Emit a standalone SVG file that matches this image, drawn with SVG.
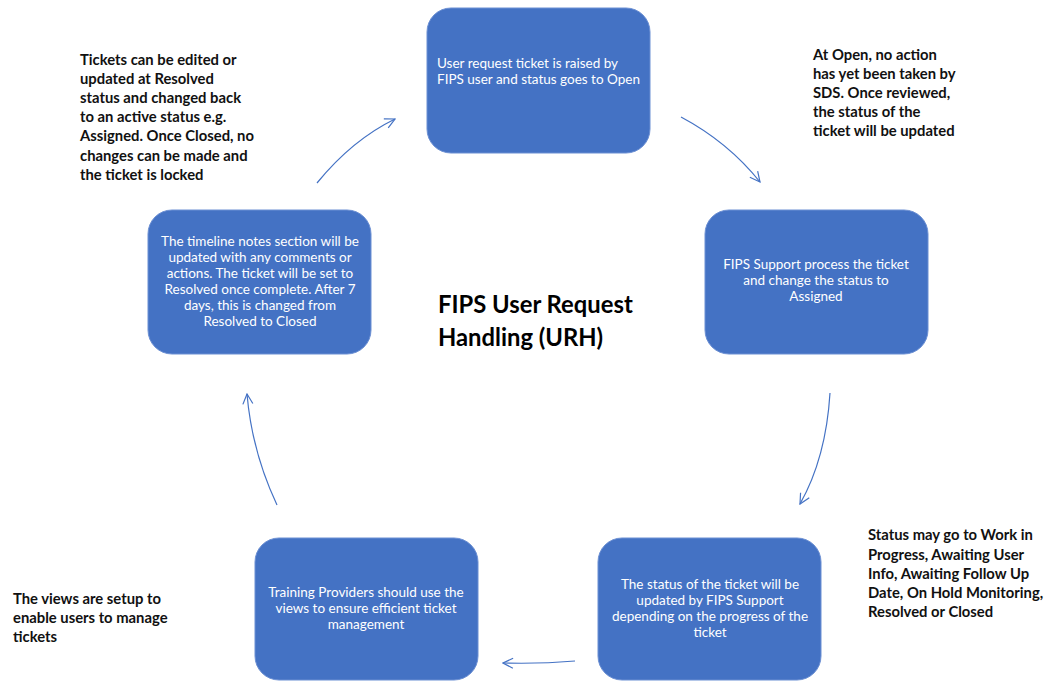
<svg xmlns="http://www.w3.org/2000/svg" width="1048" height="682" viewBox="0 0 1048 682">
<style>
.box{fill:#4472C4;stroke:#6b8fd3;stroke-width:1}
.bt{font-family:Lato,"Open Sans",sans-serif;font-size:13.5px;fill:#ffffff}
.c{text-anchor:middle}
.note{font-family:Lato,"Open Sans",sans-serif;font-size:14.8px;font-weight:bold;fill:#111111}
.title{font-family:Lato,"Open Sans",sans-serif;font-size:23.8px;font-weight:bold;fill:#000000}
.conn{fill:none;stroke:#4472C4;stroke-width:1.2;marker-end:url(#ah)}
</style>
<defs>
<marker id="ah" viewBox="0 0 12 12" refX="11" refY="6" markerWidth="12" markerHeight="12" markerUnits="userSpaceOnUse" orient="auto">
<path d="M1,1 L11,6 L1,11" fill="none" stroke="#4472C4" stroke-width="1.2"/>
</marker>
</defs>
<rect width="1048" height="682" fill="#ffffff"/>
<g id="connectors">
<path class="conn" d="M681,117 Q728,142 760,182"/>
<path class="conn" d="M830,393 Q826,458 800,504"/>
<path class="conn" d="M575,661 Q540,664 503,663"/>
<path class="conn" d="M277,505 Q252,452 247,394"/>
<path class="conn" d="M317,183 Q352,140 395,119"/>
</g>
<g id="node-open">
<rect class="box" x="427" y="8" width="223" height="145" rx="24"/>
<text class="bt" x="437" y="68">User request ticket is raised by</text>
<text class="bt" x="437" y="84">FIPS user and status goes to Open</text>
</g>
<g id="node-assigned">
<rect class="box" x="705" y="210" width="223" height="144" rx="24"/>
<text class="bt c" x="816" y="269">FIPS Support process the ticket</text>
<text class="bt c" x="816" y="285">and change the status to</text>
<text class="bt c" x="816" y="301">Assigned</text>
</g>
<g id="node-progress">
<rect class="box" x="598" y="538" width="223" height="142" rx="24"/>
<text class="bt c" x="710" y="589">The status of the ticket will be</text>
<text class="bt c" x="710" y="605">updated by FIPS Support</text>
<text class="bt c" x="710" y="621">depending on the progress of the</text>
<text class="bt c" x="710" y="637">ticket</text>
</g>
<g id="node-views">
<rect class="box" x="255" y="538" width="223" height="142" rx="24"/>
<text class="bt c" x="366" y="597">Training Providers should use the</text>
<text class="bt c" x="366" y="613">views to ensure efficient ticket</text>
<text class="bt c" x="366" y="629">management</text>
</g>
<g id="node-resolved">
<rect class="box" x="148" y="210" width="223" height="144" rx="24"/>
<text class="bt c" x="260" y="246">The timeline notes section will be</text>
<text class="bt c" x="260" y="262">updated with any comments or</text>
<text class="bt c" x="260" y="278">actions. The ticket will be set to</text>
<text class="bt c" x="260" y="294">Resolved once complete. After 7</text>
<text class="bt c" x="260" y="310">days, this is changed from</text>
<text class="bt c" x="260" y="326">Resolved to Closed</text>
</g>
<g id="title">
<text class="title" x="438" y="313">FIPS User Request</text>
<text class="title" x="438" y="346">Handling (URH)</text>
</g>
<g id="note-top-left">
<text class="note" x="80" y="65">Tickets can be edited or</text>
<text class="note" x="80" y="84">updated at Resolved</text>
<text class="note" x="80" y="103">status and changed back</text>
<text class="note" x="80" y="122">to an active status e.g.</text>
<text class="note" x="80" y="141">Assigned. Once Closed, no</text>
<text class="note" x="80" y="161">changes can be made and</text>
<text class="note" x="80" y="180">the ticket is locked</text>
</g>
<g id="note-top-right">
<text class="note" x="813" y="60">At Open, no action</text>
<text class="note" x="813" y="79">has yet been taken by</text>
<text class="note" x="813" y="98">SDS. Once reviewed,</text>
<text class="note" x="813" y="117">the status of the</text>
<text class="note" x="813" y="136">ticket will be updated</text>
</g>
<g id="note-bottom-right">
<text class="note" x="868" y="540">Status may go to Work in</text>
<text class="note" x="868" y="560">Progress, Awaiting User</text>
<text class="note" x="868" y="579">Info, Awaiting Follow Up</text>
<text class="note" x="868" y="598">Date, On Hold Monitoring,</text>
<text class="note" x="868" y="617">Resolved or Closed</text>
</g>
<g id="note-bottom-left">
<text class="note" x="13" y="604">The views are setup to</text>
<text class="note" x="13" y="623">enable users to manage</text>
<text class="note" x="13" y="642">tickets</text>
</g>
</svg>
